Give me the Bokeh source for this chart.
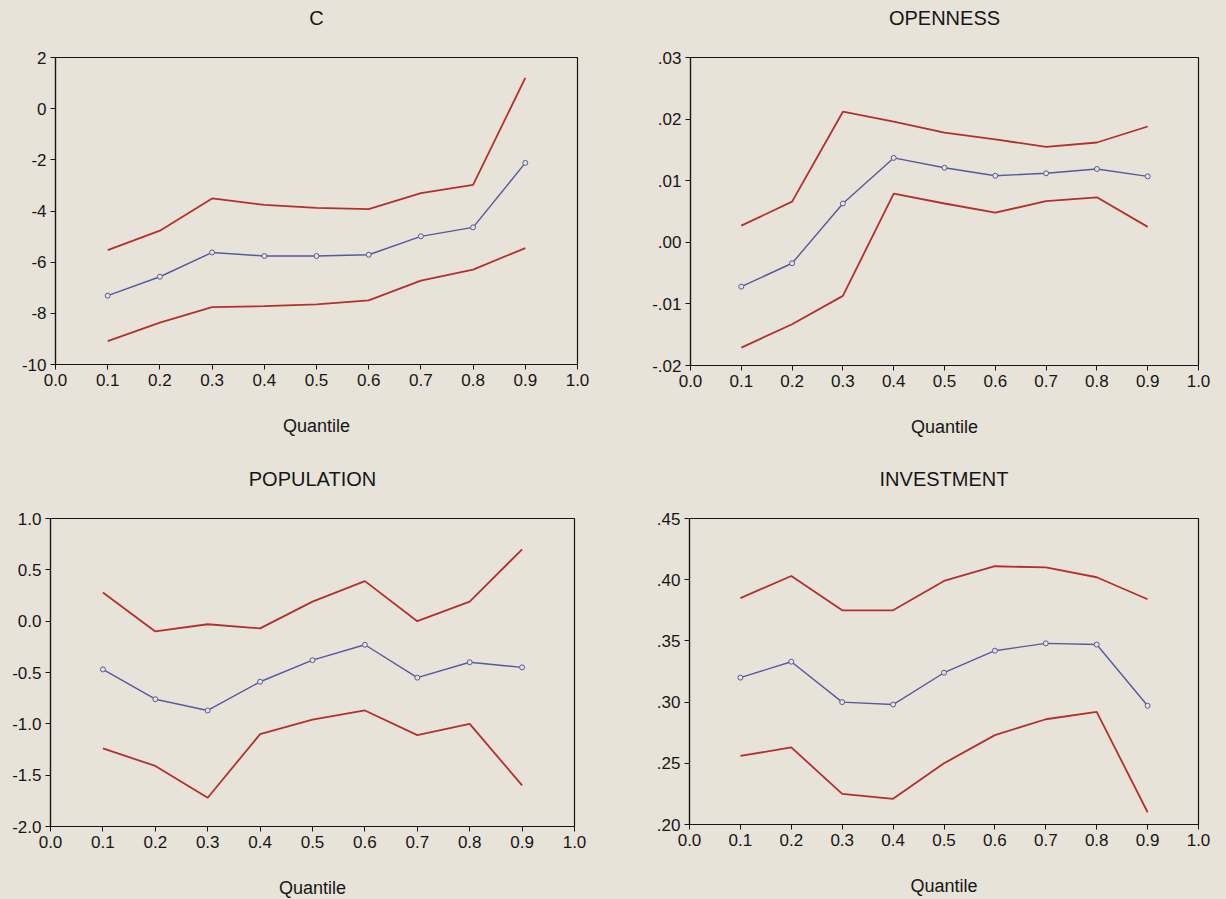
from bokeh.plotting import figure
from bokeh.layouts import column, row
from bokeh.models import FixedTicker, Range1d, Title
from bokeh.embed import file_html
from bokeh.resources import INLINE

# ---------------- data ----------------
quantiles = [0.1, 0.2, 0.3, 0.4, 0.5, 0.6, 0.7, 0.8, 0.9]

c_est = [-7.31, -6.57, -5.62, -5.76, -5.76, -5.71, -4.99, -4.64, -2.12]
c_upper = [-5.53, -4.77, -3.51, -3.76, -3.88, -3.93, -3.30, -2.98, 1.20]
c_lower = [-9.09, -8.36, -7.76, -7.72, -7.65, -7.49, -6.72, -6.29, -5.45]

open_est = [-0.0072, -0.0034, 0.0063, 0.0137, 0.0121, 0.0108, 0.0112, 0.0119, 0.0107]
open_upper = [0.0027, 0.0066, 0.0212, 0.0196, 0.0178, 0.0167, 0.0155, 0.0162, 0.0188]
open_lower = [-0.0171, -0.0133, -0.0087, 0.0079, 0.0063, 0.0048, 0.0067, 0.0073, 0.0025]

pop_est = [-0.47, -0.76, -0.87, -0.59, -0.38, -0.23, -0.55, -0.40, -0.45]
pop_upper = [0.28, -0.10, -0.03, -0.07, 0.19, 0.39, 0.00, 0.19, 0.70]
pop_lower = [-1.24, -1.41, -1.72, -1.10, -0.96, -0.87, -1.11, -1.00, -1.60]

inv_est = [0.320, 0.333, 0.300, 0.298, 0.324, 0.342, 0.348, 0.347, 0.297]
inv_upper = [0.385, 0.403, 0.375, 0.375, 0.399, 0.411, 0.410, 0.402, 0.384]
inv_lower = [0.256, 0.263, 0.225, 0.221, 0.250, 0.273, 0.286, 0.292, 0.210]

x_ticks = [0.0, 0.1, 0.2, 0.3, 0.4, 0.5, 0.6, 0.7, 0.8, 0.9, 1.0]
x_tick_labels = ["0.0", "0.1", "0.2", "0.3", "0.4", "0.5", "0.6", "0.7", "0.8", "0.9", "1.0"]

c_ticks = [-10, -8, -6, -4, -2, 0, 2]
c_tick_labels = ["-10", "-8", "-6", "-4", "-2", "0", "2"]
open_ticks = [-0.02, -0.01, 0.0, 0.01, 0.02, 0.03]
open_tick_labels = ["-.02", "-.01", ".00", ".01", ".02", ".03"]
pop_ticks = [-2.0, -1.5, -1.0, -0.5, 0.0, 0.5, 1.0]
pop_tick_labels = ["-2.0", "-1.5", "-1.0", "-0.5", "0.0", "0.5", "1.0"]
inv_ticks = [0.20, 0.25, 0.30, 0.35, 0.40, 0.45]
inv_tick_labels = [".20", ".25", ".30", ".35", ".40", ".45"]

# ---------------- style ----------------
BG = "#e7e3d8"
RED = "#b3302c"
BLUE = "#5559a0"
INK = "#161616"
FONT = "Liberation Sans"


def panel(title, est, upper, lower, yr, yticks, ylabels,
          left, fw, right, top, fh, bottom, gap):
    p = figure(frame_width=fw, frame_height=fh,
               min_border_left=left, min_border_right=right,
               min_border_top=top, min_border_bottom=bottom,
               x_range=Range1d(0, 1), y_range=Range1d(*yr),
               title_location=None,
               output_backend="svg", toolbar_location=None,
               background_fill_color=BG, border_fill_color=BG)
    p.grid.visible = False
    p.outline_line_color = INK
    p.outline_line_width = 1.2
    p.outline_line_alpha = 1

    # spacer between frame and title, then the title itself
    p.add_layout(Title(text=" ", text_font_size="1px", standoff=gap,
                       background_fill_color=None), "above")
    p.add_layout(Title(text=title, align="center", text_font=FONT,
                       text_font_size="20px", text_font_style="normal",
                       text_color=INK, standoff=0), "above")

    p.xaxis.ticker = FixedTicker(ticks=x_ticks)
    p.xaxis.major_label_overrides = dict(zip(x_ticks, x_tick_labels))
    p.yaxis.ticker = FixedTicker(ticks=yticks)
    p.yaxis.major_label_overrides = dict(zip(yticks, ylabels))
    p.xaxis.axis_label = "Quantile"
    p.xaxis.axis_label_standoff = 27
    for ax in (p.xaxis, p.yaxis):
        ax.axis_line_color = INK
        ax.axis_line_width = 1.2
        ax.major_tick_line_color = INK
        ax.major_tick_out = 5
        ax.major_tick_in = 0
        ax.minor_tick_line_color = None
        ax.major_label_text_font = FONT
        ax.major_label_text_font_size = "17px"
        ax.major_label_text_color = INK
        ax.major_label_standoff = 4
        ax.axis_label_text_font = FONT
        ax.axis_label_text_font_size = "18px"
        ax.axis_label_text_font_style = "normal"
        ax.axis_label_text_color = INK

    p.line(quantiles, upper, line_color=RED, line_width=1.8)
    p.line(quantiles, lower, line_color=RED, line_width=1.8)
    p.line(quantiles, est, line_color=BLUE, line_width=1.4)
    p.scatter(quantiles, est, marker="circle", size=5, line_color=BLUE,
              line_width=1, fill_color=BG)
    return p


p1 = panel("C", c_est, c_upper, c_lower, (-10, 2), c_ticks, c_tick_labels,
           55, 522, 36, 57, 307, 85, 26)
p2 = panel("OPENNESS", open_est, open_upper, open_lower, (-0.02, 0.03),
           open_ticks, open_tick_labels, 77, 508, 28, 56, 308, 85, 26)
p3 = panel("POPULATION", pop_est, pop_upper, pop_lower, (-2.0, 1.0),
           pop_ticks, pop_tick_labels, 50, 524, 39, 69, 308, 73, 26)
p4 = panel("INVESTMENT", inv_est, inv_upper, inv_lower, (0.20, 0.45),
           inv_ticks, inv_tick_labels, 76, 509, 28, 68, 306, 76, 26)

layout = column(row(p1, p2), row(p3, p4))
layout.styles = {"background-color": BG}

open("out.html", "w").write(file_html(layout, INLINE))
